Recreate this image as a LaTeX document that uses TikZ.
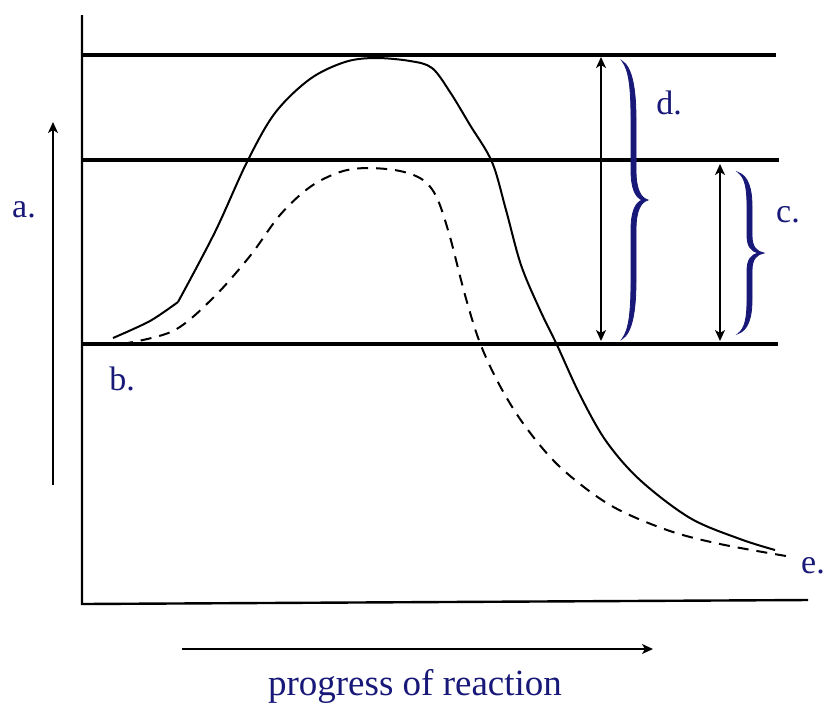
\documentclass[tikz,border=0pt]{standalone}
\usepackage{fontspec}
\setmainfont{Liberation Serif}
\usetikzlibrary{arrows.meta}
\definecolor{navy}{RGB}{24,24,120}
\tikzset{
  level/.style={line width=4pt},
  axis/.style={line width=2.4pt},
  curve/.style={line width=2pt},
  dashcurve/.style={line width=2pt, dash pattern=on 11pt off 8pt},
  arr/.style={line width=1.6pt, -{Stealth[length=11pt,width=10pt,inset=3pt]}},
  darr/.style={line width=1.6pt, {Stealth[length=11pt,width=10pt,inset=3pt]}-{Stealth[length=11pt,width=10pt,inset=3pt]}},
  lab/.style={text=navy, font=\fontsize{34}{40}\selectfont, anchor=base, inner sep=0pt},
  bigbrace/.style={fill=navy, draw=navy, line width=0.8pt}
}
\newcommand\bracepath{%
  (0,-139) .. controls (10,-133) and (14,-112) .. (14,-80) -- (14,-30)
  .. controls (14,-10) and (19,-2) .. (26,0)
  .. controls (19,2) and (14,10) .. (14,30) -- (14,80)
  .. controls (14,112) and (10,133) .. (0,139)
  .. controls (7,130) and (9,112) .. (9,80) -- (9,30)
  .. controls (9,12) and (13,3) .. (20,0)
  .. controls (13,-3) and (9,-12) .. (9,-30) -- (9,-80)
  .. controls (9,-112) and (7,-130) .. (0,-139) -- cycle}
\begin{document}
\begin{tikzpicture}[x=1pt,y=-1pt]
\useasboundingbox (0,0) rectangle (826,705);
% coordinates
\coordinate (axTop) at (82,15);
\coordinate (axOrig) at (82,604);
\coordinate (axRight) at (808,600);
\coordinate (l1a) at (82,55);  \coordinate (l1b) at (776,55);
\coordinate (l2a) at (82,160); \coordinate (l2b) at (779,160);
\coordinate (l3a) at (82,344); \coordinate (l3b) at (778,344);
\coordinate (aLow) at (53,485); \coordinate (aHigh) at (53,122);
\coordinate (dTop) at (601,57); \coordinate (dBot) at (601,341);
\coordinate (cTop) at (720,164); \coordinate (cBot) at (720,341);
\coordinate (pL) at (182,649); \coordinate (pR) at (653,649);
% axes
\draw[axis] (axTop) -- (axOrig) -- (axRight);
% levels
\draw[level] (l1a) -- (l1b);
\draw[level] (l2a) -- (l2b);
\draw[level] (l3a) -- (l3b);
% curves
\draw[curve] plot[smooth, tension=0.5] coordinates {(113,338) (150,321) (178,302)};
\draw[curve] plot[smooth, tension=0.55] coordinates {(178,302) (215,232) (247,162) (275,113) (310,79) (345,62) (375,58) (410,61) (432,68) (450,92) (470,125) (492,162) (506,210) (521,265) (540,310) (557,345) (580,395) (606,441) (640,480) (690,518) (740,539) (775,550)};
\draw[dashcurve] plot[smooth, tension=0.55] coordinates {(122,344) (173,331) (213,298) (250,256) (280,215) (310,187) (340,172) (367,168) (400,171) (423,180) (437,198) (450,237) (465,295) (480,343) (500,386) (525,426) (560,467) (610,505) (667,530) (720,544) (786,556)};
% arrows
\draw[arr] (aLow) -- (aHigh);
\draw[darr] (dTop) -- (dBot);
\draw[darr] (cTop) -- (cBot);
\draw[arr] (pL) -- (pR);
% braces
\begin{scope}[shift={(622,200)}]
  \filldraw[bigbrace] \bracepath;
\end{scope}
\begin{scope}[shift={(738,253)}, yscale=0.58]
  \filldraw[bigbrace] \bracepath;
\end{scope}
% labels
\node[lab] (la) at (24,217) {a.};
\node[lab] (lb) at (122,390) {b.};
\node[lab] (lc) at (788,222) {c.};
\node[lab] (ld) at (669,114) {d.};
\node[lab] (le) at (813,573) {e.};
\node[lab, font=\fontsize{37}{44}\selectfont] (lp) at (415,695) {progress of reaction};
\end{tikzpicture}
\end{document}
